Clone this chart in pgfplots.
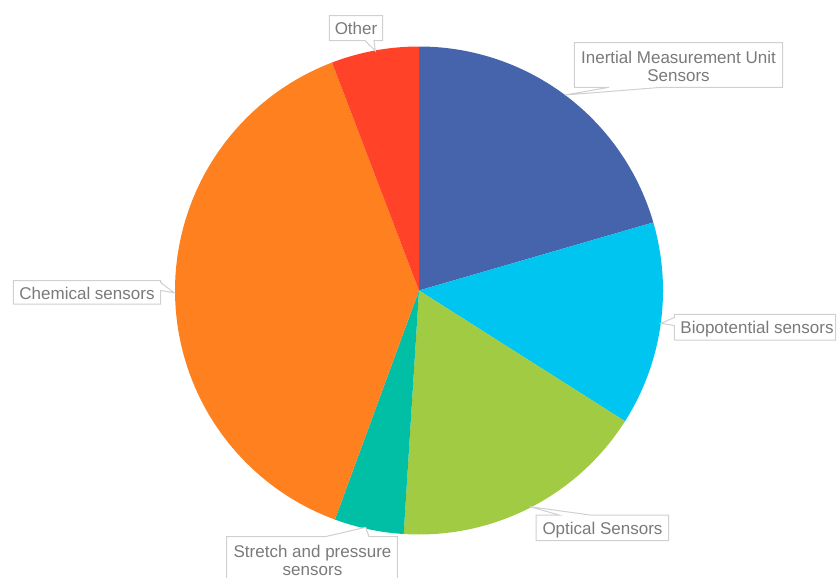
\documentclass[border=0pt]{standalone}
\usepackage{fontspec}
\setmainfont{Liberation Sans}
\usepackage{pgfplots}
\pgfplotsset{compat=1.18}
\definecolor{cimu}{HTML}{4564AB}
\definecolor{cbio}{HTML}{00C5F0}
\definecolor{copt}{HTML}{A2CB44}
\definecolor{cstr}{HTML}{00BFA5}
\definecolor{cchem}{HTML}{FF801E}
\definecolor{coth}{HTML}{FF4228}
\definecolor{ctext}{HTML}{7A7A7A}
\definecolor{cbox}{HTML}{D0D0D0}
% slice: cumulative share before, share (percent), colour
\newcommand\slice[3]{%
  \pgfmathsetmacro\aS{90-3.6*(#1+#2)}%
  \pgfmathsetmacro\aE{90-3.6*(#1)}%
  \edef\temp{\noexpand\addplot[fill=#3,draw=none,domain=\aS:\aE,samples=90,variable=\noexpand\t]
    ({419+244*cos(\noexpand\t)},{290.5-244*sin(\noexpand\t)}) -- (axis cs:419,290.5) -- cycle;}%
  \temp}
\begin{document}
\begin{tikzpicture}
\clip (0,0) rectangle (419pt,288.5pt);
\begin{axis}[
  width=419pt, height=288.5pt, scale only axis,
  xmin=0, xmax=838, ymin=0, ymax=577, y dir=reverse,
  hide axis, clip=false,
]
\slice{0}{20.5}{cimu}
\slice{20.5}{13.5}{cbio}
\slice{34}{17.0}{copt}
\slice{51}{4.6}{cstr}
\slice{55.6}{38.6}{cchem}
\slice{94.2}{5.8}{coth}
% callouts
\tikzset{cb/.style={draw=cbox, fill=white, line width=0.5pt}, lb/.style={font=\fontsize{8.5}{10}\selectfont, text=ctext, inner sep=0pt, anchor=base}}
\draw[cb] (axis cs:329.3,15.7) -- (axis cs:382.7,15.7) -- (axis cs:382.7,40.7) -- (axis cs:374,40.7) -- (axis cs:375.3,50.7) -- (axis cs:365,40.7) -- (axis cs:329.3,40.7) -- cycle;
\node[lb] at (axis cs:356,34.3) {Other};
\draw[cb] (axis cs:574.3,42.7) -- (axis cs:782.7,42.7) -- (axis cs:782.7,87.3) -- (axis cs:661.7,87.3) -- (axis cs:565,95) -- (axis cs:609,87.3) -- (axis cs:574.3,87.3) -- cycle;
\node[lb] at (axis cs:678.5,63.5) {Inertial Measurement Unit};
\node[lb] at (axis cs:678.5,81.5) {Sensors};
\draw[cb] (axis cs:674.3,314.3) -- (axis cs:835.5,314.3) -- (axis cs:835.5,340) -- (axis cs:674.3,340) -- (axis cs:674.3,325.5) -- (axis cs:661,323.3) -- (axis cs:674.3,317.5) -- cycle;
\node[lb] at (axis cs:757,333.7) {Biopotential sensors};
\draw[cb] (axis cs:536,515) -- (axis cs:559,515) -- (axis cs:530,506.7) -- (axis cs:590,515) -- (axis cs:668.7,515) -- (axis cs:668.7,540.7) -- (axis cs:536,540.7) -- cycle;
\node[lb] at (axis cs:602.5,534) {Optical Sensors};
\draw[cb] (axis cs:226.7,536.7) -- (axis cs:325,536.7) -- (axis cs:365.7,527.3) -- (axis cs:369,536.7) -- (axis cs:397.3,536.7) -- (axis cs:397.3,600) -- (axis cs:226.7,600) -- cycle;
\node[lb] at (axis cs:312.5,557.5) {Stretch and pressure};
\node[lb] at (axis cs:312.5,575.5) {sensors};
\draw[cb] (axis cs:13.3,280.7) -- (axis cs:160.7,280.7) -- (axis cs:160.7,282.5) -- (axis cs:174,292.7) -- (axis cs:160.7,290.5) -- (axis cs:160.7,304) -- (axis cs:13.3,304) -- cycle;
\node[lb] at (axis cs:87,299.3) {Chemical sensors};
\end{axis}
\end{tikzpicture}
\end{document}
